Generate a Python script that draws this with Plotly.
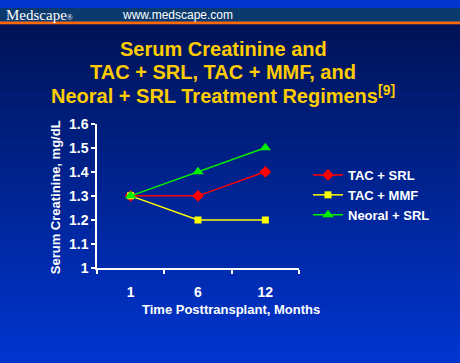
import plotly.graph_objects as go

W, H = 460, 363

months = ["1", "6", "12"]
tac_srl = [1.3, 1.3, 1.4]
tac_mmf = [1.3, 1.2, 1.2]
neoral_srl = [1.3, 1.4, 1.5]
y_ticks = [1, 1.1, 1.2, 1.3, 1.4, 1.5, 1.6]

def px(x):
    return x / W

def py(y):
    return 1 - y / H

fig = go.Figure()

series = [
    ("TAC + SRL", tac_srl, "#FF0000", "diamond", 9),
    ("TAC + MMF", tac_mmf, "#FFFF00", "square", 7),
    ("Neoral + SRL", neoral_srl, "#00EE00", "triangle-up", 10),
]
for name, vals, col, sym, sz in series:
    fig.add_trace(go.Scatter(
        x=months, y=vals, name=name, mode="lines+markers",
        line=dict(color=col, width=1.5),
        marker=dict(color=col, symbol=sym, size=sz, line=dict(width=0)),
    ))

shapes = []
# gradient background
top_c = (0x00, 0x13, 0x57)
bot_c = (0x00, 0x34, 0xCC)
y0 = 17
n = 70
step = (H - y0) / n
for i in range(n):
    t = i / (n - 1)
    c = tuple(int(round(top_c[k] + (bot_c[k] - top_c[k]) * t)) for k in range(3))
    shapes.append(dict(type="rect", xref="paper", yref="paper",
                       x0=0, x1=1, y0=py(y0 + (i + 1) * step + 0.5), y1=py(y0 + i * step),
                       fillcolor="rgb(%d,%d,%d)" % c, line=dict(width=0), layer="below"))
shapes.append(dict(type="rect", xref="paper", yref="paper", x0=0, x1=1, y0=py(14), y1=1,
                   fillcolor="#0B3A6E", line=dict(width=0), layer="below"))
shapes.append(dict(type="rect", xref="paper", yref="paper", x0=0, x1=1, y0=py(17), y1=py(14),
                   fillcolor="#FF6A00", line=dict(width=0), layer="below"))

annotations = [
    dict(text="Medscape<span style='font-size:8px'>®</span>", x=px(4), y=py(7), xref="paper", yref="paper",
         xanchor="left", yanchor="middle", showarrow=False,
         font=dict(family="Liberation Serif", size=15, color="white")),
    dict(text="www.medscape.com", x=px(120), y=py(7), xref="paper", yref="paper",
         xanchor="left", yanchor="middle", showarrow=False,
         font=dict(family="Liberation Sans", size=12, color="white")),
]
title_lines = [
    ("<b>Serum Creatinine and</b>", 43),
    ("<b>TAC + SRL, TAC + MMF, and</b>", 67),
    ("<b>Neoral + SRL Treatment Regimens<sup>[9]</sup></b>", 90),
]
for txt, yy in title_lines:
    annotations.append(dict(text=txt, x=px(223), y=py(yy), xref="paper", yref="paper",
                            xanchor="center", yanchor="middle", showarrow=False,
                            font=dict(family="Liberation Sans", size=20, color="#FFCC00")))
annotations.append(dict(text="<b>Time Posttransplant, Months</b>", x=px(231), y=py(315),
                        xref="paper", yref="paper", xanchor="center", yanchor="middle",
                        showarrow=False,
                        font=dict(family="Liberation Sans", size=13, color="white")))
annotations.append(dict(text="<b>Serum Creatinine, mg/dL</b>", x=px(55), y=py(198),
                        xref="paper", yref="paper", xanchor="center", yanchor="middle",
                        showarrow=False, textangle=-90,
                        font=dict(family="Liberation Sans", size=13, color="white")))

fig.update_layout(
    width=W, height=H,
    margin=dict(l=0, r=0, t=0, b=0),
    paper_bgcolor="#0034CC", plot_bgcolor="rgba(0,0,0,0)",
    shapes=shapes, annotations=annotations,
    font=dict(family="Liberation Sans", color="white"),
    xaxis=dict(domain=[px(97), px(299)], type="category", range=[-0.5, 2.5],
               showgrid=False, zeroline=False, showline=True, linecolor="white", linewidth=1.5,
               ticks="outside", tickson="boundaries", ticklen=4, tickcolor="white", tickwidth=1.5,
               ticklabelstandoff=10,
               tickfont=dict(family="Liberation Sans", size=14, color="white", weight="bold")),
    yaxis=dict(domain=[py(272), py(121)], range=[1, 1.6], tickvals=y_ticks,
               ticktext=[("%g" % v) for v in y_ticks],
               showgrid=False, zeroline=False, showline=True, linecolor="white", linewidth=1.5,
               ticks="outside", ticklen=4, tickcolor="white", tickwidth=1.5,
               tickfont=dict(family="Liberation Sans", size=14, color="white", weight="bold")),
    legend=dict(x=px(308), y=py(159), xanchor="left", yanchor="top",
                bgcolor="rgba(0,0,0,0)", borderwidth=0, tracegroupgap=0,
                font=dict(family="Liberation Sans", size=13, color="white", weight="bold")),
    showlegend=True,
)

fig.write_html("out.html", config={"displayModeBar": False},
               post_script="document.body.style.margin='0';document.body.style.padding='0';document.body.style.overflow='hidden';")
